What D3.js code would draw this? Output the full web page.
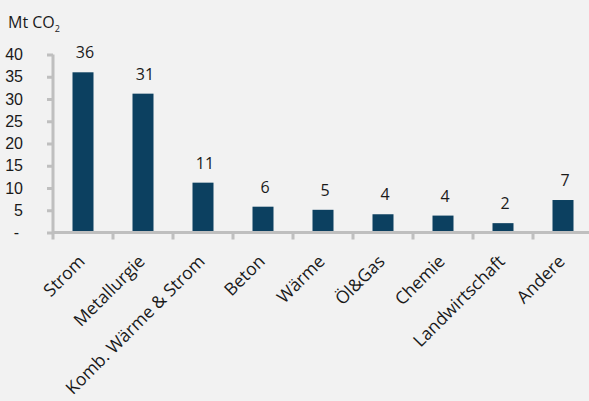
<!DOCTYPE html>
<html>
<head>
<meta charset="utf-8">
<script src="https://cdn.jsdelivr.net/npm/d3@7"></script>
<style>
  body { margin: 0; background: #f2f2f2; }
  svg { display: block; background: #f2f2f2; font-family: "Open Sans", sans-serif; }
  .axis path, .axis line { stroke: #bfbfbf; stroke-width: 3; }
  .axis text { fill: #1a1a1a; font-size: 16px; }
  .axis text.lbl { font-size: 17.5px; }
</style>
</head>
<body>
<svg id="chart" width="589" height="401"></svg>
<script>
var categories = ["Strom", "Metallurgie", "Komb. Wärme & Strom", "Beton", "Wärme", "Öl&Gas", "Chemie", "Landwirtschaft", "Andere"];
var values = [36, 31.2, 11.2, 5.8, 5.1, 4.1, 3.8, 2.1, 7.3];
var valueLabels = ["36", "31", "11", "6", "5", "4", "4", "2", "7"];
var yTicks = [0, 5, 10, 15, 20, 25, 30, 35, 40];

var svg = d3.select("#chart"),
    margin = {top: 54.5, left: 53},
    width = 540,
    height = 178;

var x = d3.scaleBand().domain(categories).range([0, width]).paddingInner(0.65).paddingOuter(0.325),
    y = d3.scaleLinear().domain([0, 40]).range([height, 0]);

var g = svg.append("g")
    .attr("transform", "translate(" + margin.left + "," + margin.top + ")");

// unit label
var unit = svg.append("text")
    .attr("x", 8)
    .attr("y", 28)
    .style("font-size", "16px")
    .style("fill", "#1a1a1a")
    .text("Mt CO");
unit.append("tspan")
    .attr("dy", 4)
    .style("font-size", "9px")
    .text("2");

// bars
g.selectAll(".bar")
  .data(values)
  .enter().append("rect")
    .attr("class", "bar")
    .attr("x", function(d, i) { return x(categories[i]); })
    .attr("y", function(d) { return y(d); })
    .attr("width", x.bandwidth())
    .attr("height", function(d) { return height - y(d); })
    .style("fill", "#0c4060");

// value labels
g.selectAll(".val")
  .data(values)
  .enter().append("text")
    .attr("class", "val")
    .attr("x", function(d, i) { return x(categories[i]) + x.bandwidth() / 2 + 2; })
    .attr("y", function(d) { return y(d) - 14; })
    .attr("text-anchor", "middle")
    .style("font-size", "16px")
    .style("fill", "#1a1a1a")
    .text(function(d, i) { return valueLabels[i]; });

// y axis
var yAxis = g.append("g")
    .attr("class", "axis")
    .call(d3.axisLeft(y).tickValues(yTicks).tickSize(6).tickPadding(24)
      .tickFormat(function(d) { return d === 0 ? "-" : d; }));
yAxis.select(".domain").attr("d", "M0," + height + "V0");
yAxis.selectAll(".tick text").filter(function(d) { return d === 0; })
    .attr("x", -34);

// x axis with ticks at band edges
var xAxis = g.append("g")
    .attr("class", "axis")
    .attr("transform", "translate(0," + height + ")");
xAxis.append("line")
    .attr("x1", 0).attr("x2", width)
    .attr("y1", 0).attr("y2", 0);
xAxis.selectAll(".edge")
  .data(d3.range(categories.length))
  .enter().append("line")
    .attr("class", "edge")
    .attr("x1", function(i) { return x.step() * i; })
    .attr("x2", function(i) { return x.step() * i; })
    .attr("y1", 0).attr("y2", 7);
xAxis.selectAll(".lbl")
  .data(categories)
  .enter().append("text")
    .attr("class", "lbl")
    .attr("text-anchor", "end")
    .attr("transform", function(d) {
      return "translate(" + (x(d) + x.bandwidth() / 2 + 3) + ",30) rotate(-45)";
    })
    .text(function(d) { return d; });
</script>
</body>
</html>
